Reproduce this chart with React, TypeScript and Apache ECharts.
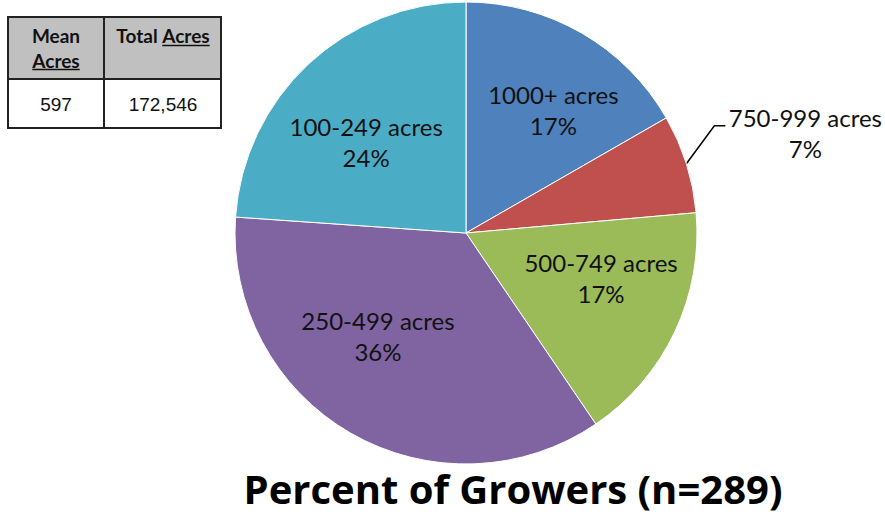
import React, { useEffect, useRef } from "react";
import * as echarts from "echarts";

const categories = ["1000+ acres", "750-999 acres", "500-749 acres", "250-499 acres", "100-249 acres"];
const shares = [16.7, 6.9, 16.9, 35.6, 23.9];
const percentLabels = ["17%", "7%", "17%", "36%", "24%"];
const colors = ["#4F81BD", "#C0504D", "#9BBB59", "#8064A2", "#4BACC6"];
const outsideLabelIndex = 1;
const tableValues = ["597", "172,546"];
const titleText = "Percent of Growers (n=289)";

const FONT = "Lato, 'Open Sans', sans-serif";
const CX = 466;
const CY = 233;
const R = 231;
// label nudges (px) relative to ECharts' default inside position
const LABEL_NUDGE: number[][] = [[28, -20], [0, 0], [28, -6], [-29, 0], [-19, -4]];

function measure(text: string, font: string): number {
  const c = document.createElement("canvas").getContext("2d");
  if (!c) return text.length * 9;
  c.font = font;
  return c.measureText(text).width;
}

export default function App() {
  const ref = useRef<HTMLDivElement>(null);
  useEffect(() => {
    document.body.style.margin = "0";
    const chart = echarts.init(ref.current!, null, { renderer: "svg" });

    const hdrFont = "bold 19px Lato";
    const hdrStyle = { fontFamily: "Lato", fontWeight: "bold" as const, fontSize: 19, fill: "#111" };
    const valStyle = { fontFamily: "'Liberation Sans', Arial, sans-serif", fontSize: 19, fill: "#111" };
    const wAcres = measure("Acres", hdrFont);
    const wTotal = measure("Total ", hdrFont);
    const wTotalAcres = wTotal + wAcres;
    const col1 = 56;
    const col2 = 163;
    const totalStart = col2 - wTotalAcres / 2;

    const graphic: any[] = [
      { type: "rect", shape: { x: 8, y: 17, width: 213, height: 62 }, style: { fill: "#C0C0C0" } },
      { type: "rect", shape: { x: 8, y: 79, width: 213, height: 49 }, style: { fill: "#fff" } },
      { type: "line", shape: { x1: 104, y1: 17, x2: 104, y2: 128 }, style: { stroke: "#222", lineWidth: 2 } },
      { type: "line", shape: { x1: 8, y1: 79, x2: 221, y2: 79 }, style: { stroke: "#222", lineWidth: 2 } },
      { type: "rect", shape: { x: 8, y: 17, width: 213, height: 111 }, style: { fill: "none", stroke: "#222", lineWidth: 2 } },
      { type: "text", x: col1, y: 35, style: { ...hdrStyle, text: "Mean", align: "center", verticalAlign: "middle" } },
      { type: "text", x: col1, y: 60, style: { ...hdrStyle, text: "Acres", align: "center", verticalAlign: "middle" } },
      { type: "line", shape: { x1: col1 - wAcres / 2, y1: 69.5, x2: col1 + wAcres / 2, y2: 69.5 }, style: { stroke: "#111", lineWidth: 1.5 } },
      { type: "text", x: totalStart, y: 35, style: { ...hdrStyle, text: "Total", align: "left", verticalAlign: "middle" } },
      { type: "text", x: totalStart + wTotal, y: 35, style: { ...hdrStyle, text: "Acres", align: "left", verticalAlign: "middle" } },
      { type: "line", shape: { x1: totalStart + wTotal, y1: 45.5, x2: totalStart + wTotalAcres, y2: 45.5 }, style: { stroke: "#111", lineWidth: 1.5 } },
      { type: "text", x: col1, y: 104, style: { ...valStyle, text: tableValues[0], align: "center", verticalAlign: "middle" } },
      { type: "text", x: col2, y: 104, style: { ...valStyle, text: tableValues[1], align: "center", verticalAlign: "middle" } },
    ];

    const data = categories.map((name, i) => {
      const item: any = { name, value: shares[i], itemStyle: { color: colors[i] } };
      if (i === outsideLabelIndex) {
        item.label = { position: "outside" };
        item.labelLine = { show: true, length: 20, length2: 10, lineStyle: { color: "#000", width: 1.5 } };
      }
      return item;
    });

    chart.setOption({
      animation: false,
      backgroundColor: "#fff",
      title: {
        text: titleText,
        left: 508,
        top: 463,
        textAlign: "center",
        textStyle: { fontFamily: "'Open Sans', sans-serif", fontWeight: "bold", fontSize: 40, color: "#000" },
      },
      graphic,
      series: [
        {
          type: "pie",
          center: [CX, CY],
          radius: R,
          startAngle: 90,
          clockwise: true,
          data,
          itemStyle: { borderColor: "#fff", borderWidth: 1 },
          label: {
            show: true,
            position: "inside",
            color: "#111",
            fontFamily: FONT,
            fontSize: 24,
            lineHeight: 31,
            formatter: (p: any) =>
              p.dataIndex === outsideLabelIndex
                ? `{t|${p.name}}\n{t|${percentLabels[p.dataIndex]}}`
                : `${p.name}\n${percentLabels[p.dataIndex]}`,
            rich: {
              t: { width: 152, align: "center", fontFamily: FONT, fontSize: 24, lineHeight: 31, color: "#111" },
            },
          },
          labelLine: { show: false },
          labelLayout: (params: any) => {
            const lr = params.labelRect;
            if (params.dataIndex === outsideLabelIndex) {
              const pts = params.labelLinePoints;
              if (!pts) return {};
              const p0 = pts[0];
              const elbow = [p0[0] + 28, p0[1] - 38];
              const end = [elbow[0] + 11, elbow[1]];
              return {
                x: end[0] + 4,
                y: end[1] - 24,
                align: "left",
                verticalAlign: "top",
                labelLinePoints: [p0, elbow, end],
              };
            }
            const nudge = LABEL_NUDGE[params.dataIndex] || [0, 0];
            return {
              x: lr.x + lr.width / 2 + nudge[0],
              y: lr.y + lr.height / 2 + nudge[1],
              align: "center",
              verticalAlign: "middle",
            };
          },
        },
      ],
    });
    return () => chart.dispose();
  }, []);
  return <div ref={ref} style={{ width: 885, height: 516, position: "absolute", left: 0, top: 0 }} />;
}
